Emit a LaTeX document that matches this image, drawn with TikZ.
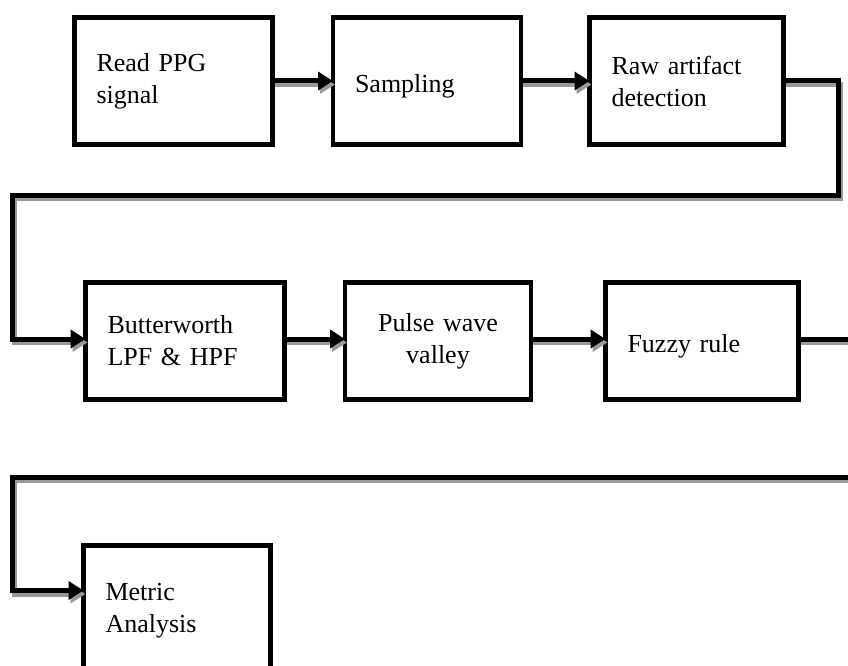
\documentclass[tikz,border=0pt]{standalone}
\usepackage{fontspec}
\setmainfont{Liberation Serif}
\usetikzlibrary{arrows.meta}

\begin{document}
\begin{tikzpicture}[x=1pt,y=-1pt,
 blk/.style={draw,line width=4.5pt,rectangle,anchor=north west,outer sep=0pt,
  inner xsep=22pt,inner ysep=0pt,align=left,font=\fontsize{26}{32}\selectfont},
 oneline/.style={text height=23pt,text depth=0pt},
 link/.style={line width=5pt,-{Triangle[length=15pt,width=18pt]}},
 linkplain/.style={line width=5pt}]
\useasboundingbox (0,0) rectangle (848,666);

%first row
\node[blk,text width=154pt,minimum height=127pt] (read) at (74.5,17.5) {Read PPG\\signal};
\node[blk,oneline,text width=144pt,minimum height=127pt] (samp) at (333,17.5) {Sampling};
\node[blk,text width=150pt,minimum height=127pt] (raw) at (589.5,17.5) {Raw artifact\\detection};

%second row
\node[blk,text width=155pt,minimum height=117pt] (butter) at (85.5,282.5) {Butterworth\\LPF \& HPF};
\node[blk,text width=142pt,minimum height=117pt,align=center] (pulse) at (345,282.5) {Pulse wave\\valley};
\node[blk,oneline,text width=149pt,minimum height=117pt] (fuzzy) at (605.5,282.5) {Fuzzy rule};

%third row
\node[blk,text width=143pt,minimum height=130pt] (metric) at (83.5,545.5) {Metric\\Analysis};

%turning points
\coordinate (turnA) at (838.5,195);
\coordinate (turnB) at (12.5,195);
\coordinate (exitR) at (870,339);
\coordinate (enterR) at (870,477);
\coordinate (turnC) at (12.5,477);

%connectors, gray shadow first
\foreach \col/\dx/\dy in {black!40/2/-3.5, black/0/0}{
\begin{scope}[transform canvas={xshift=\dx pt,yshift=\dy pt},draw=\col]
 \draw[link] (read.east) -- (samp.west);
 \draw[link] (samp.east) -- (raw.west);
 \draw[link] (raw.east) -| (turnA) -- (turnB) |- ([yshift=2pt]butter.west);
 \draw[link] ([yshift=2pt]butter.east) -- ([yshift=2pt]pulse.west);
 \draw[link] ([yshift=2pt]pulse.east) -- ([yshift=2pt]fuzzy.west);
 \draw[linkplain] (fuzzy.east |- exitR) -- (exitR);
 \draw[link] (enterR) -- (turnC) |- ([yshift=20pt]metric.west);
\end{scope}
}

\end{tikzpicture}
\end{document}
